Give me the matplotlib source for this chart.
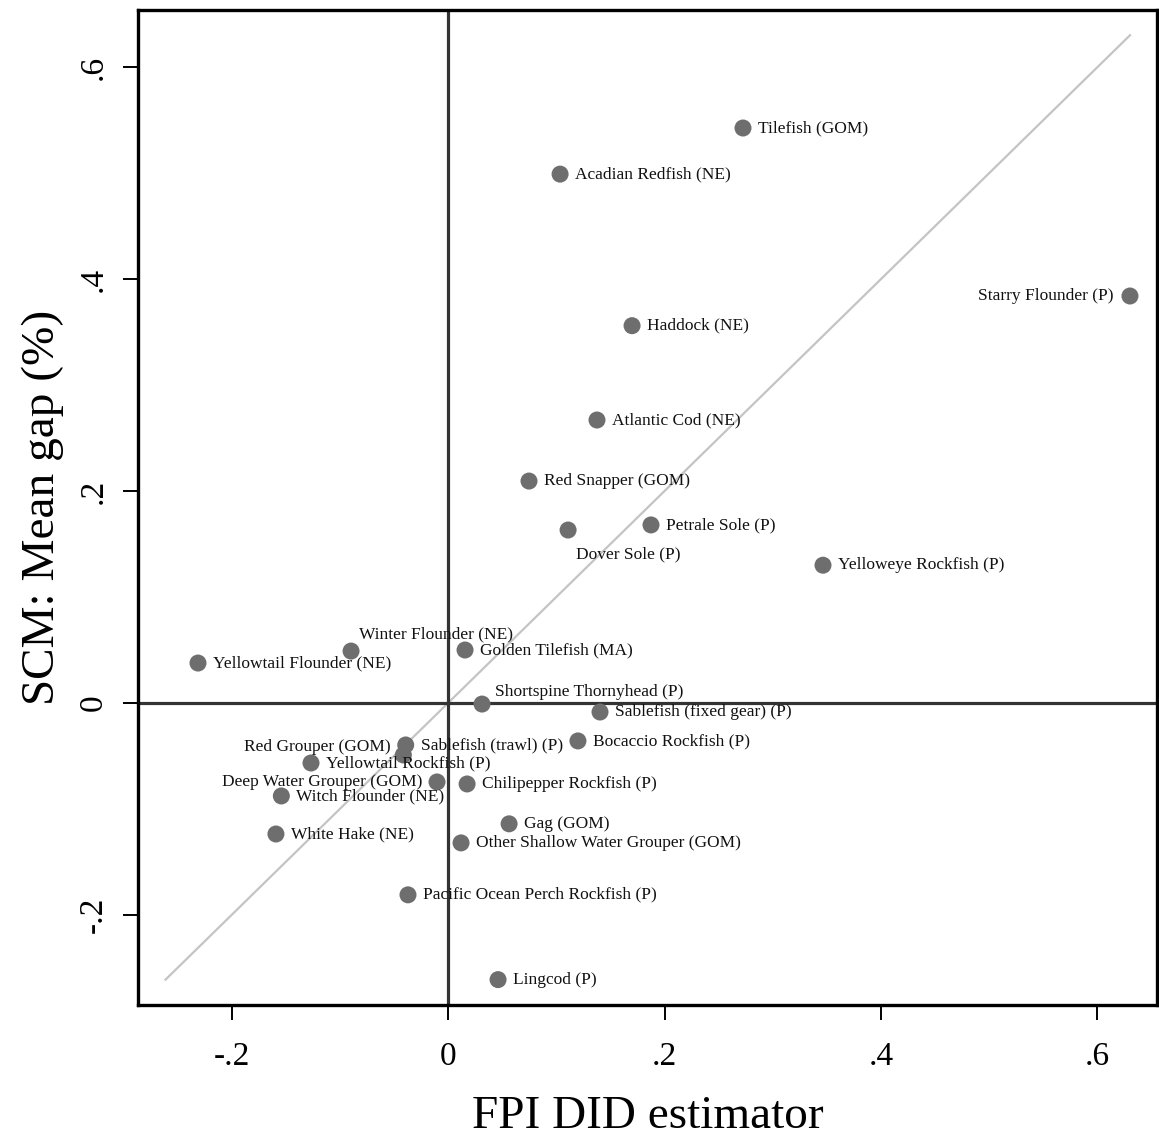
import matplotlib
matplotlib.use("Agg")
import matplotlib.pyplot as plt

# FPI DID estimator (x) vs SCM mean gap (y), one point per stock
species = [
    "Tilefish (GOM)", "Acadian Redfish (NE)", "Starry Flounder (P)", "Haddock (NE)",
    "Atlantic Cod (NE)", "Red Snapper (GOM)", "Dover Sole (P)", "Petrale Sole (P)",
    "Yelloweye Rockfish (P)", "Winter Flounder (NE)", "Yellowtail Flounder (NE)",
    "Golden Tilefish (MA)", "Shortspine Thornyhead (P)", "Sablefish (fixed gear) (P)",
    "Bocaccio Rockfish (P)", "Sablefish (trawl) (P)", "Red Grouper (GOM)",
    "Yellowtail Rockfish (P)", "Deep Water Grouper (GOM)", "Chilipepper Rockfish (P)",
    "Witch Flounder (NE)", "White Hake (NE)", "Gag (GOM)",
    "Other Shallow Water Grouper (GOM)", "Pacific Ocean Perch Rockfish (P)", "Lingcod (P)",
]
fpi_did = [
    0.2725, 0.1035, 0.630, 0.170, 0.1376, 0.0748, 0.1109, 0.1875,
    0.3464, -0.0896, -0.231, 0.0157, 0.0314, 0.1404,
    0.120, -0.0391, -0.0413, -0.1266, -0.0102, 0.0176,
    -0.154, -0.159, 0.0564, 0.012, -0.037, 0.0462,
]
scm_gap = [
    0.5425, 0.499, 0.384, 0.356, 0.267, 0.2094, 0.1632, 0.168,
    0.130, 0.049, 0.0377, 0.050, -0.001, -0.0085,
    -0.0358, -0.0396, -0.049, -0.0566, -0.0745, -0.0764,
    -0.0877, -0.1236, -0.114, -0.132, -0.181, -0.261,
]
diag = [-0.261, 0.630]

# label placement (pixel offsets, alignment); default is to the right
label_pos = {
    "Starry Flounder (P)": (-16, 0, "right"),
    "Dover Sole (P)": (8, -24, "left"),
    "Winter Flounder (NE)": (8, 17, "left"),
    "Shortspine Thornyhead (P)": (13, 12, "left"),
    "Red Grouper (GOM)": (-13, 8, "right"),
    "Deep Water Grouper (GOM)": (-15, 0, "right"),
}

FONT = ["Liberation Serif", "DejaVu Serif"]
plt.rcParams["font.family"] = FONT

fig = plt.figure(figsize=(11.59, 11.42), dpi=100)
ax = fig.add_axes([0.1191, 0.1200, 0.9983 - 0.1191, 0.9912 - 0.1200])

ax.plot(diag, diag, color="#c4c4c4", linewidth=1.6, zorder=1)
ax.axhline(0, color="#333333", linewidth=2.3, zorder=2)
ax.axvline(0, color="#333333", linewidth=2.3, zorder=2)
ax.scatter(fpi_did, scm_gap, s=150, color="#6e6e6e", edgecolors="none", zorder=3)

for name, x, y in zip(species, fpi_did, scm_gap):
    dx, dy, ha = label_pos.get(name, (15, 0, "left"))
    ax.annotate(name, (x, y), xytext=(dx, dy), textcoords="offset pixels",
                ha=ha, va="center", fontsize=12.5, color="#111111", zorder=4)

ax.set_xlim(-0.2864, 0.655)
ax.set_ylim(-0.2849, 0.6538)
ticks = [-0.2, 0, 0.2, 0.4, 0.6]
tick_labels = ["-.2", "0", ".2", ".4", ".6"]
ax.set_xticks(ticks)
ax.set_xticklabels(tick_labels)
ax.set_yticks(ticks)
ax.set_yticklabels(tick_labels, rotation=90, va="center")

ax.tick_params(axis="both", direction="out", length=11, width=1.4,
               labelsize=24, color="black")
ax.tick_params(axis="x", pad=15)
ax.tick_params(axis="y", pad=10)
for spine in ax.spines.values():
    spine.set_linewidth(2.4)
    spine.set_edgecolor("black")

ax.set_xlabel("FPI DID estimator", fontsize=34, labelpad=17)
ax.set_ylabel("SCM: Mean gap (%)", fontsize=34, labelpad=10)

fig.savefig("out.png", dpi=100, facecolor="white")
